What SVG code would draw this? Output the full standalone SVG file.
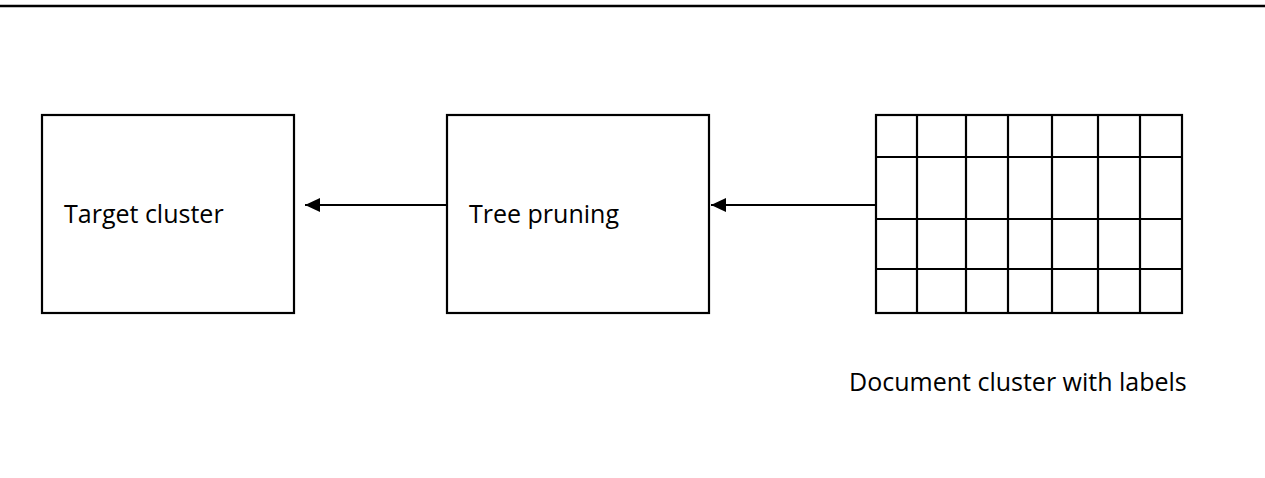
<svg xmlns="http://www.w3.org/2000/svg" width="1265" height="478" viewBox="0 0 1265 478">
  <style>
    .box { fill: #ffffff; stroke: #000000; stroke-width: 2.2; }
    .grid line { stroke: #000000; stroke-width: 2.2; }
    .edge { stroke: #000000; stroke-width: 2.2; fill: none; }
    .label { font-family: "Open Sans", "Liberation Sans", sans-serif; font-size: 25px; fill: #000000; }
  </style>
  <defs>
    <marker id="arrow" viewBox="0 0 15 14" refX="15" refY="7" markerWidth="15" markerHeight="14" markerUnits="userSpaceOnUse" orient="auto">
      <path d="M15,7 L0,0 L0,14 Z" fill="#000000"/>
    </marker>
  </defs>

  <rect width="1265" height="478" fill="#ffffff"/>

  <!-- header rule -->
  <line x1="0" y1="6" x2="1265" y2="6" stroke="#000000" stroke-width="2.3"/>

  <g id="target-cluster">
    <rect class="box" x="42" y="115" width="252" height="198"/>
    <text class="label" x="64" y="223">Target cluster</text>
  </g>

  <g id="tree-pruning">
    <rect class="box" x="447" y="115" width="262" height="198"/>
    <text class="label" x="469" y="223">Tree pruning</text>
  </g>

  <g id="document-cluster">
    <rect class="box" x="876" y="115" width="306" height="198"/>
    <g class="grid">
      <line x1="917" y1="115" x2="917" y2="313"/>
      <line x1="966" y1="115" x2="966" y2="313"/>
      <line x1="1008" y1="115" x2="1008" y2="313"/>
      <line x1="1052" y1="115" x2="1052" y2="313"/>
      <line x1="1098" y1="115" x2="1098" y2="313"/>
      <line x1="1140" y1="115" x2="1140" y2="313"/>
      <line x1="876" y1="157" x2="1182" y2="157"/>
      <line x1="876" y1="219" x2="1182" y2="219"/>
      <line x1="876" y1="269" x2="1182" y2="269"/>
    </g>
    <text class="label" x="849" y="391">Document cluster with labels</text>
  </g>

  <g id="connectors">
    <line class="edge" x1="447" y1="205" x2="305" y2="205" marker-end="url(#arrow)"/>
    <line class="edge" x1="876" y1="205" x2="711" y2="205" marker-end="url(#arrow)"/>
  </g>
</svg>
